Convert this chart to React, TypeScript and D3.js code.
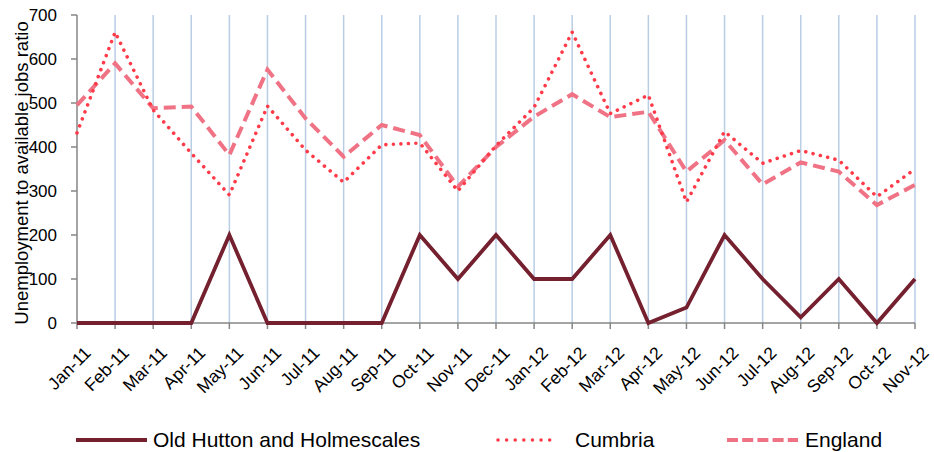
import React from "react";
import * as d3 from "d3";

const categories = ["Jan-11","Feb-11","Mar-11","Apr-11","May-11","Jun-11","Jul-11","Aug-11","Sep-11","Oct-11","Nov-11","Dec-11","Jan-12","Feb-12","Mar-12","Apr-12","May-12","Jun-12","Jul-12","Aug-12","Sep-12","Oct-12","Nov-12"];
const oldHutton = [0,0,0,0,200,0,0,0,0,200,100,200,100,100,200,0,35,200,100,13,100,0,100];
const cumbria = [432,661,484,386,291,493,393,320,405,409,300,403,490,661,476,518,275,435,363,392,370,287,350];
const england = [495,590,488,492,382,576,465,378,450,427,310,400,469,520,468,480,344,416,315,365,344,268,314];
const yTicks = [0,100,200,300,400,500,600,700];

const W = 934, H = 452;
const left = 77, right = 915, top = 15, bottom = 323;
const font = "'Liberation Sans', Arial, sans-serif";

export default function App() {
  const x = d3.scalePoint<string>().domain(categories).range([left, right]);
  const y = d3.scaleLinear().domain([0, 700]).range([bottom, top]);
  const line = (vals: number[]) =>
    d3.line<number>().x((_, i) => x(categories[i]) as number).y((v) => y(v))(vals) || "";

  return (
    <svg width={W} height={H} style={{ position: "absolute", left: 0, top: 0 }} fontFamily={font}>
      <rect width={W} height={H} fill="#fff" />
      {categories.slice(1).map((c) => (
        <line key={c} x1={x(c)} x2={x(c)} y1={top} y2={bottom} stroke="#b9cde5" strokeWidth={1.5} />
      ))}
      {/* y axis */}
      <line x1={left} x2={left} y1={top} y2={bottom} stroke="#868686" strokeWidth={1.5} />
      {yTicks.map((t) => (
        <g key={t}>
          <line x1={left - 6} x2={left} y1={y(t)} y2={y(t)} stroke="#868686" strokeWidth={1.5} />
          <text x={left - 20} y={y(t)} dy="0.35em" textAnchor="end" fontSize={17} fill="#000">{t}</text>
        </g>
      ))}
      {/* x axis */}
      <line x1={left} x2={right} y1={bottom} y2={bottom} stroke="#868686" strokeWidth={1.5} />
      {categories.map((c) => (
        <g key={c}>
          <line x1={x(c)} x2={x(c)} y1={bottom} y2={bottom + 6} stroke="#868686" strokeWidth={1.5} />
          <text transform={`translate(${(x(c) as number) + 15},${bottom + 31}) rotate(-45)`} textAnchor="end" fontSize={17.5} fill="#000">{c}</text>
        </g>
      ))}
      <text transform={`translate(28,${(top + bottom) / 2 + 4}) rotate(-90)`} textAnchor="middle" fontSize={18.5} fill="#000">Unemployment to available jobs ratio</text>
      {/* series */}
      <path d={line(england)} fill="none" stroke="#ef7385" strokeWidth={4} strokeDasharray="12,6" />
      <path d={line(cumbria)} fill="none" stroke="#ff3b4a" strokeWidth={3.6} strokeDasharray="0.01,7.5" strokeLinecap="round" />
      <path d={line(oldHutton)} fill="none" stroke="#74202f" strokeWidth={3.8} strokeLinejoin="miter" />
      {/* legend */}
      <line x1={76} x2={147} y1={440} y2={440} stroke="#74202f" strokeWidth={3.8} />
      <text x={153} y={447} fontSize={21} fill="#000">Old Hutton and Holmescales</text>
      <line x1={498} x2={558} y1={440} y2={440} stroke="#ff3b4a" strokeWidth={3.6} strokeDasharray="0.01,8.6" strokeLinecap="round" />
      <text x={575} y={447} fontSize={21} fill="#000">Cumbria</text>
      <line x1={727} x2={798} y1={440} y2={440} stroke="#ef7385" strokeWidth={4} strokeDasharray="11,4.2" />
      <text x={805} y={447} fontSize={21} fill="#000">England</text>
    </svg>
  );
}
